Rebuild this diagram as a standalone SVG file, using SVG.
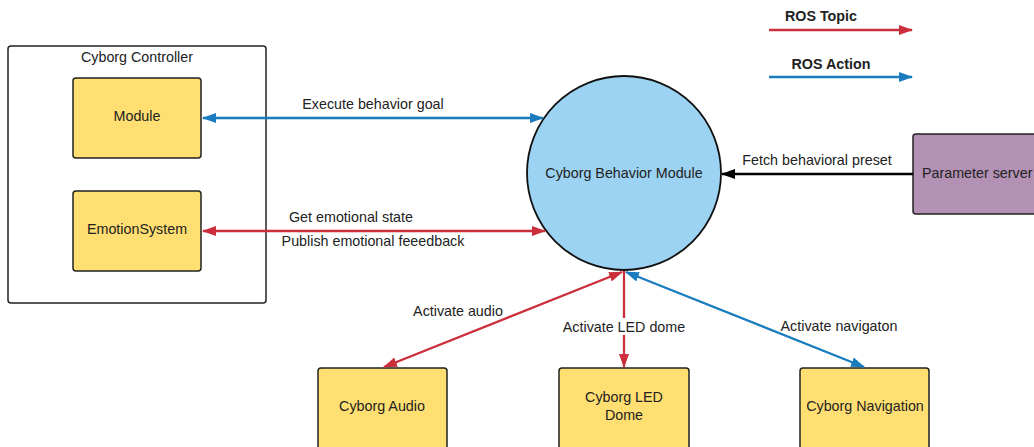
<svg xmlns="http://www.w3.org/2000/svg" width="1034" height="447" viewBox="0 0 1034 447">
  <style>
    text { font-family: "Liberation Sans", Arial, sans-serif; font-size: 14.3px; fill: #222; }
    .node { fill: #ffdf71; stroke: #222; stroke-width: 1.5; }
    .legend { font-weight: bold; }
    .topic { stroke: #cc2f3c; stroke-width: 2.3; fill: none; }
    .action { stroke: #1a7bbf; stroke-width: 2.3; fill: none; }
    .plain { stroke: #000; stroke-width: 2.3; fill: none; }
  </style>
  <defs>
    <marker id="arrRed" viewBox="0 0 14 10" refX="13" refY="5" markerWidth="14" markerHeight="10" markerUnits="userSpaceOnUse" orient="auto-start-reverse">
      <path d="M0,0 L14,5 L0,10 z" fill="#cc2f3c"/>
    </marker>
    <marker id="arrBlue" viewBox="0 0 14 10" refX="13" refY="5" markerWidth="14" markerHeight="10" markerUnits="userSpaceOnUse" orient="auto-start-reverse">
      <path d="M0,0 L14,5 L0,10 z" fill="#1a7bbf"/>
    </marker>
    <marker id="arrBlack" viewBox="0 0 14 10" refX="13" refY="5" markerWidth="14" markerHeight="10" markerUnits="userSpaceOnUse" orient="auto-start-reverse">
      <path d="M0,0 L14,5 L0,10 z" fill="#000"/>
    </marker>
  </defs>

  <!-- legend -->
  <g id="legend">
    <text class="legend" x="821" y="21" text-anchor="middle">ROS Topic</text>
    <line class="topic" x1="769" y1="30" x2="912" y2="30" marker-end="url(#arrRed)"/>
    <text class="legend" x="831" y="69" text-anchor="middle">ROS Action</text>
    <line class="action" x1="769" y1="77" x2="912" y2="77" marker-end="url(#arrBlue)"/>
  </g>

  <!-- container -->
  <g id="cyborg-controller">
    <rect x="8" y="46" width="258" height="257" rx="3" fill="#fff" stroke="#222" stroke-width="1.5"/>
    <text x="137" y="62" text-anchor="middle">Cyborg Controller</text>
  </g>

  <g id="module">
    <rect class="node" x="73" y="78" width="128" height="80" rx="3"/>
    <text x="137" y="121" text-anchor="middle">Module</text>
  </g>

  <g id="emotion-system">
    <rect class="node" x="73" y="191" width="128" height="80" rx="3"/>
    <text x="137" y="234" text-anchor="middle">EmotionSystem</text>
  </g>

  <g id="behavior-module">
    <circle cx="624" cy="173" r="97" fill="#9dd3f2" stroke="#111" stroke-width="1.8"/>
    <text x="624" y="178" text-anchor="middle">Cyborg Behavior Module</text>
  </g>

  <g id="parameter-server">
    <rect x="913" y="134" width="130" height="80" rx="3" fill="#b291b4" stroke="#222" stroke-width="1.5"/>
    <text x="922" y="178">Parameter server</text>
  </g>

  <g id="cyborg-audio">
    <rect class="node" x="318" y="368" width="129" height="90" rx="3"/>
    <text x="382" y="411" text-anchor="middle">Cyborg Audio</text>
  </g>

  <g id="cyborg-led-dome">
    <rect class="node" x="559" y="368" width="130" height="90" rx="3"/>
    <text x="624" y="402" text-anchor="middle">Cyborg LED</text>
    <text x="624" y="420" text-anchor="middle">Dome</text>
  </g>

  <g id="cyborg-navigation">
    <rect class="node" x="800" y="368" width="129" height="90" rx="3"/>
    <text x="865" y="411" text-anchor="middle">Cyborg Navigation</text>
  </g>

  <!-- connectors -->
  <g id="connectors">
    <line class="action" x1="203" y1="118" x2="543" y2="118" marker-start="url(#arrBlue)" marker-end="url(#arrBlue)"/>
    <text x="373" y="109" text-anchor="middle">Execute behavior goal</text>

    <line class="topic" x1="203" y1="231" x2="545" y2="231" marker-start="url(#arrRed)" marker-end="url(#arrRed)"/>
    <text x="351" y="222" text-anchor="middle">Get emotional state</text>
    <text x="373" y="246" text-anchor="middle">Publish emotional feeedback</text>

    <line class="plain" x1="913" y1="174" x2="722" y2="174" marker-end="url(#arrBlack)"/>
    <text x="817" y="165" text-anchor="middle">Fetch behavioral preset</text>

    <line class="topic" x1="622" y1="272" x2="384" y2="367" marker-start="url(#arrRed)" marker-end="url(#arrRed)"/>
    <text x="458" y="316" text-anchor="middle">Activate audio</text>

    <line class="topic" x1="624" y1="271" x2="624" y2="367" marker-end="url(#arrRed)"/>
    <rect x="561" y="318" width="126" height="17" fill="#fff"/>
    <text x="624" y="332" text-anchor="middle">Activate LED dome</text>

    <line class="action" x1="626" y1="272" x2="864" y2="367" marker-start="url(#arrBlue)" marker-end="url(#arrBlue)"/>
    <text x="839" y="331" text-anchor="middle">Activate navigaton</text>
  </g>
</svg>
